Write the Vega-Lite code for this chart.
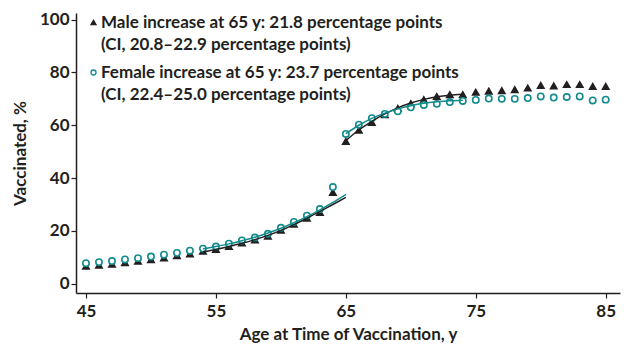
{
  "$schema": "https://vega.github.io/schema/vega-lite/v6.json",
  "autosize": {"type": "none"},
  "width": 544,
  "height": 280,
  "padding": {"left": 76, "top": 13, "right": 11, "bottom": 59},
  "background": "white",
  "config": {
    "font": "Lato",
    "view": {"stroke": null},
    "style": {"guide-label": {"lineHeight": 22}},
    "axis": {
      "grid": false,
      "domainColor": "#231f20",
      "domainWidth": 1.5,
      "tickColor": "#231f20",
      "tickWidth": 1.2,
      "tickSize": 5,
      "labelFont": "Lato",
      "labelFontSize": 17,
      "labelFontWeight": "bold",
      "labelColor": "#231f20",
      "titleFont": "Lato",
      "titleFontSize": 17,
      "titleFontWeight": "bold",
      "titleColor": "#231f20"
    },
    "legend": {
      "orient": "none", "legendX": 9, "legendY": 1, "title": null,
      "labelFont": "Lato", "labelFontSize": 17, "labelFontWeight": "bold", "labelColor": "#231f20",
      "labelLimit": 1000, "labelBaseline": "middle", "labelOffset": -1, "symbolSize": 25, "rowPadding": 10,
      "symbolStrokeWidth": 1.3
    }
  },
  "datasets": {
    "pts": [
      {"age": 45, "sex": "Male", "pct": 6.6}, {"age": 46, "sex": "Male", "pct": 7.0}, {"age": 47, "sex": "Male", "pct": 7.4}, {"age": 48, "sex": "Male", "pct": 8.0}, {"age": 49, "sex": "Male", "pct": 8.5},
      {"age": 50, "sex": "Male", "pct": 9.1}, {"age": 51, "sex": "Male", "pct": 9.8}, {"age": 52, "sex": "Male", "pct": 10.6}, {"age": 53, "sex": "Male", "pct": 11.3}, {"age": 54, "sex": "Male", "pct": 12.3},
      {"age": 55, "sex": "Male", "pct": 13.0}, {"age": 56, "sex": "Male", "pct": 14.1}, {"age": 57, "sex": "Male", "pct": 15.4}, {"age": 58, "sex": "Male", "pct": 16.6}, {"age": 59, "sex": "Male", "pct": 18.0},
      {"age": 60, "sex": "Male", "pct": 20.3}, {"age": 61, "sex": "Male", "pct": 22.5}, {"age": 62, "sex": "Male", "pct": 24.8}, {"age": 63, "sex": "Male", "pct": 27.0}, {"age": 64, "sex": "Male", "pct": 34.6},
      {"age": 65, "sex": "Male", "pct": 53.9}, {"age": 66, "sex": "Male", "pct": 58.1}, {"age": 67, "sex": "Male", "pct": 61.1}, {"age": 68, "sex": "Male", "pct": 64.0}, {"age": 69, "sex": "Male", "pct": 66.4},
      {"age": 70, "sex": "Male", "pct": 68.2}, {"age": 71, "sex": "Male", "pct": 69.7}, {"age": 72, "sex": "Male", "pct": 70.9}, {"age": 73, "sex": "Male", "pct": 71.6}, {"age": 74, "sex": "Male", "pct": 71.6},
      {"age": 75, "sex": "Male", "pct": 72.5}, {"age": 76, "sex": "Male", "pct": 72.9}, {"age": 77, "sex": "Male", "pct": 73.1}, {"age": 78, "sex": "Male", "pct": 73.5}, {"age": 79, "sex": "Male", "pct": 74.1},
      {"age": 80, "sex": "Male", "pct": 75.1}, {"age": 81, "sex": "Male", "pct": 74.9}, {"age": 82, "sex": "Male", "pct": 75.4}, {"age": 83, "sex": "Male", "pct": 75.4}, {"age": 84, "sex": "Male", "pct": 74.7},
      {"age": 85, "sex": "Male", "pct": 74.7},
      {"age": 45, "sex": "Female", "pct": 7.8}, {"age": 46, "sex": "Female", "pct": 8.2}, {"age": 47, "sex": "Female", "pct": 8.6}, {"age": 48, "sex": "Female", "pct": 9.2}, {"age": 49, "sex": "Female", "pct": 9.7},
      {"age": 50, "sex": "Female", "pct": 10.3}, {"age": 51, "sex": "Female", "pct": 11.0}, {"age": 52, "sex": "Female", "pct": 11.7}, {"age": 53, "sex": "Female", "pct": 12.5}, {"age": 54, "sex": "Female", "pct": 13.3},
      {"age": 55, "sex": "Female", "pct": 14.1}, {"age": 56, "sex": "Female", "pct": 15.2}, {"age": 57, "sex": "Female", "pct": 16.4}, {"age": 58, "sex": "Female", "pct": 17.5}, {"age": 59, "sex": "Female", "pct": 18.9},
      {"age": 60, "sex": "Female", "pct": 21.2}, {"age": 61, "sex": "Female", "pct": 23.4}, {"age": 62, "sex": "Female", "pct": 25.8}, {"age": 63, "sex": "Female", "pct": 28.3}, {"age": 64, "sex": "Female", "pct": 36.6},
      {"age": 65, "sex": "Female", "pct": 56.7}, {"age": 66, "sex": "Female", "pct": 60.2}, {"age": 67, "sex": "Female", "pct": 62.7}, {"age": 68, "sex": "Female", "pct": 64.3}, {"age": 69, "sex": "Female", "pct": 65.3},
      {"age": 70, "sex": "Female", "pct": 66.8}, {"age": 71, "sex": "Female", "pct": 67.7}, {"age": 72, "sex": "Female", "pct": 68.1}, {"age": 73, "sex": "Female", "pct": 68.8}, {"age": 74, "sex": "Female", "pct": 69.2},
      {"age": 75, "sex": "Female", "pct": 69.6}, {"age": 76, "sex": "Female", "pct": 70.1}, {"age": 77, "sex": "Female", "pct": 70.0}, {"age": 78, "sex": "Female", "pct": 70.0}, {"age": 79, "sex": "Female", "pct": 70.3},
      {"age": 80, "sex": "Female", "pct": 70.9}, {"age": 81, "sex": "Female", "pct": 70.5}, {"age": 82, "sex": "Female", "pct": 70.7}, {"age": 83, "sex": "Female", "pct": 70.9}, {"age": 84, "sex": "Female", "pct": 69.4},
      {"age": 85, "sex": "Female", "pct": 69.7}
    ],
    "fits": [
      {"age": 54, "sex": "Male", "seg": "before", "fit": 12.1}, {"age": 55, "sex": "Male", "seg": "before", "fit": 13.0}, {"age": 56, "sex": "Male", "seg": "before", "fit": 14.1}, {"age": 57, "sex": "Male", "seg": "before", "fit": 15.3},
      {"age": 58, "sex": "Male", "seg": "before", "fit": 16.7}, {"age": 59, "sex": "Male", "seg": "before", "fit": 18.3}, {"age": 60, "sex": "Male", "seg": "before", "fit": 20.2}, {"age": 61, "sex": "Male", "seg": "before", "fit": 22.4},
      {"age": 62, "sex": "Male", "seg": "before", "fit": 24.8}, {"age": 63, "sex": "Male", "seg": "before", "fit": 27.4}, {"age": 64, "sex": "Male", "seg": "before", "fit": 30.0}, {"age": 65, "sex": "Male", "seg": "before", "fit": 32.7},
      {"age": 54, "sex": "Female", "seg": "before", "fit": 13.2}, {"age": 55, "sex": "Female", "seg": "before", "fit": 14.1}, {"age": 56, "sex": "Female", "seg": "before", "fit": 15.1}, {"age": 57, "sex": "Female", "seg": "before", "fit": 16.3},
      {"age": 58, "sex": "Female", "seg": "before", "fit": 17.6}, {"age": 59, "sex": "Female", "seg": "before", "fit": 19.2}, {"age": 60, "sex": "Female", "seg": "before", "fit": 21.0}, {"age": 61, "sex": "Female", "seg": "before", "fit": 23.1},
      {"age": 62, "sex": "Female", "seg": "before", "fit": 25.4}, {"age": 63, "sex": "Female", "seg": "before", "fit": 28.0}, {"age": 64, "sex": "Female", "seg": "before", "fit": 30.8}, {"age": 65, "sex": "Female", "seg": "before", "fit": 33.8},
      {"age": 65, "sex": "Male", "seg": "after", "fit": 54.2}, {"age": 66, "sex": "Male", "seg": "after", "fit": 58.2}, {"age": 67, "sex": "Male", "seg": "after", "fit": 61.5}, {"age": 68, "sex": "Male", "seg": "after", "fit": 64.3},
      {"age": 69, "sex": "Male", "seg": "after", "fit": 66.6}, {"age": 70, "sex": "Male", "seg": "after", "fit": 68.4}, {"age": 71, "sex": "Male", "seg": "after", "fit": 69.8}, {"age": 72, "sex": "Male", "seg": "after", "fit": 70.8},
      {"age": 73, "sex": "Male", "seg": "after", "fit": 71.4}, {"age": 74, "sex": "Male", "seg": "after", "fit": 71.7},
      {"age": 65, "sex": "Female", "seg": "after", "fit": 56.8}, {"age": 66, "sex": "Female", "seg": "after", "fit": 60.0}, {"age": 67, "sex": "Female", "seg": "after", "fit": 62.6}, {"age": 68, "sex": "Female", "seg": "after", "fit": 64.6},
      {"age": 69, "sex": "Female", "seg": "after", "fit": 66.2}, {"age": 70, "sex": "Female", "seg": "after", "fit": 67.4}, {"age": 71, "sex": "Female", "seg": "after", "fit": 68.3}, {"age": 72, "sex": "Female", "seg": "after", "fit": 68.9},
      {"age": 73, "sex": "Female", "seg": "after", "fit": 69.3}, {"age": 74, "sex": "Female", "seg": "after", "fit": 69.5}
    ]
  },
  "layer": [
    {
      "data": {"name": "pts"},
      "mark": {"type": "point", "strokeWidth": 1.6, "opacity": 1},
      "encoding": {
        "x": {
          "field": "age", "type": "quantitative",
          "scale": {"domain": [44.23, 86.1], "nice": false, "zero": false},
          "axis": {"values": [45, 55, 65, 75, 85], "title": "Age at Time of Vaccination, y", "labelPadding": 5, "titlePadding": 7}
        },
        "y": {
          "field": "pct", "type": "quantitative",
          "scale": {"domain": [-3.5, 102.5], "nice": false},
          "axis": {"values": [0, 20, 40, 60, 80, 100], "title": "Vaccinated, %", "labelPadding": 2, "titlePadding": 10}
        },
        "shape": {
          "field": "sex", "type": "nominal",
          "scale": {"domain": ["Male", "Female"], "range": ["triangle-up", "circle"]},
          "legend": {
            "labelExpr": "datum.label == 'Male' ? ['Male increase at 65 y: 21.8 percentage points', '(CI, 20.8–22.9 percentage points)'] : ['Female increase at 65 y: 23.7 percentage points', '(CI, 22.4–25.0 percentage points)']"
          }
        },
        "color": {
          "field": "sex", "type": "nominal",
          "scale": {"domain": ["Male", "Female"], "range": ["#231f20", "#138a8c"]},
          "legend": {
            "labelExpr": "datum.label == 'Male' ? ['Male increase at 65 y: 21.8 percentage points', '(CI, 20.8–22.9 percentage points)'] : ['Female increase at 65 y: 23.7 percentage points', '(CI, 22.4–25.0 percentage points)']"
          }
        },
        "fill": {
          "field": "sex", "type": "nominal",
          "scale": {"domain": ["Male", "Female"], "range": ["#231f20", "white"]},
          "legend": {
            "labelExpr": "datum.label == 'Male' ? ['Male increase at 65 y: 21.8 percentage points', '(CI, 20.8–22.9 percentage points)'] : ['Female increase at 65 y: 23.7 percentage points', '(CI, 22.4–25.0 percentage points)']"
          }
        },
        "size": {"value": 40}
      }
    },
    {
      "data": {"name": "fits"},
      "mark": {"type": "line", "interpolate": "monotone", "strokeWidth": 1.5},
      "encoding": {
        "x": {"field": "age", "type": "quantitative"},
        "y": {"field": "fit", "type": "quantitative"},
        "detail": {"field": "seg"},
        "color": {"field": "sex", "type": "nominal"}
      }
    }
  ]
}
